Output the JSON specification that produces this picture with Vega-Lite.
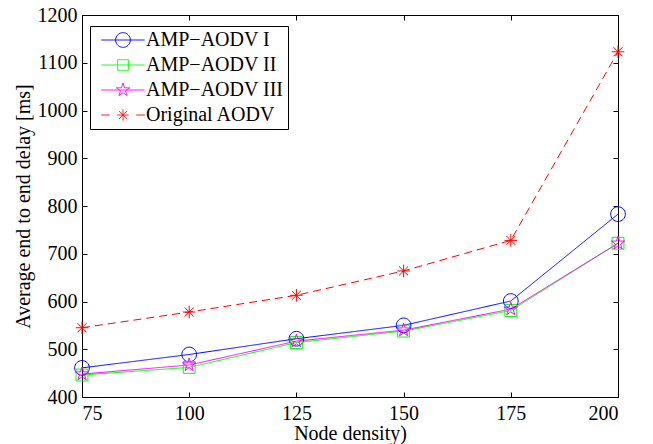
{
  "$schema": "https://vega.github.io/schema/vega-lite/v6.json",
  "autosize": {"type": "none"},
  "padding": {"left": 82, "top": 15, "right": 35, "bottom": 47},
  "width": 536,
  "height": 382,
  "background": "white",
  "config": {
    "font": "Liberation Serif",
    "view": {"stroke": "#000", "strokeWidth": 1},
    "axis": {
      "domain": false,
      "labelColor": "#000",
      "titleColor": "#000",
      "labelFont": "Liberation Serif",
      "titleFont": "Liberation Serif",
      "labelFontSize": 20,
      "titleFontSize": 20,
      "titleFontWeight": "normal"
    },
    "legend": {
      "labelFont": "Liberation Serif",
      "labelFontSize": 20,
      "labelColor": "#000"
    }
  },
  "data": {
    "values": [
      {"series": "AMP−AODV I", "node": 75, "delay": 461},
      {"series": "AMP−AODV I", "node": 100, "delay": 489},
      {"series": "AMP−AODV I", "node": 125, "delay": 522},
      {"series": "AMP−AODV I", "node": 150, "delay": 550},
      {"series": "AMP−AODV I", "node": 175, "delay": 601},
      {"series": "AMP−AODV I", "node": 200, "delay": 783},
      {"series": "AMP−AODV II", "node": 75, "delay": 446},
      {"series": "AMP−AODV II", "node": 100, "delay": 462},
      {"series": "AMP−AODV II", "node": 125, "delay": 514},
      {"series": "AMP−AODV II", "node": 150, "delay": 538},
      {"series": "AMP−AODV II", "node": 175, "delay": 581},
      {"series": "AMP−AODV II", "node": 200, "delay": 722},
      {"series": "AMP−AODV III", "node": 75, "delay": 448},
      {"series": "AMP−AODV III", "node": 100, "delay": 467},
      {"series": "AMP−AODV III", "node": 125, "delay": 517},
      {"series": "AMP−AODV III", "node": 150, "delay": 540},
      {"series": "AMP−AODV III", "node": 175, "delay": 584},
      {"series": "AMP−AODV III", "node": 200, "delay": 722},
      {"series": "Original AODV", "node": 75, "delay": 545},
      {"series": "Original AODV", "node": 100, "delay": 578},
      {"series": "Original AODV", "node": 125, "delay": 613},
      {"series": "Original AODV", "node": 150, "delay": 664},
      {"series": "Original AODV", "node": 175, "delay": 728},
      {"series": "Original AODV", "node": 200, "delay": 1123}
    ]
  },
  "layer": [
    {
      "mark": {"type": "line", "strokeWidth": 1},
      "encoding": {
        "x": {
          "field": "node", "type": "quantitative",
          "scale": {"domain": [75, 200], "nice": false, "zero": false},
          "axis": {"values": [75, 100, 125, 150, 175, 200], "format": "d", "ticks": false, "tickSize": 0, "grid": true, "gridColor": "#000000", "gridOpacity": 1, "gridWidth": 1, "gridDash": [5, 372, 5, 1000], "title": "Node density)", "labelPadding": 6, "titlePadding": 0}
        },
        "y": {
          "field": "delay", "type": "quantitative",
          "scale": {"domain": [400, 1200], "nice": false, "zero": false},
          "axis": {"values": [400, 500, 600, 700, 800, 900, 1000, 1100, 1200], "format": "d", "ticks": false, "tickSize": 0, "grid": true, "gridColor": "#000000", "gridOpacity": 1, "gridWidth": 1, "gridDash": [5, 526, 5, 1000], "title": "Average end to end delay [ms]", "labelPadding": 5, "titlePadding": 4}
        },
        "color": {
          "field": "series", "type": "nominal",
          "scale": {
            "domain": ["AMP−AODV I", "AMP−AODV II", "AMP−AODV III", "Original AODV"],
            "range": ["#0000ff", "#00ff00", "#ff00ff", "#ff0000"]
          },
          "legend": {
            "title": null,
            "orient": "none",
            "legendX": 8,
            "legendY": 11,
            "padding": 4,
            "strokeColor": "#000",
            "fillColor": "#fff",
            "symbolSize": 196,
            "symbolOffset": 19,
            "labelOffset": 13,
            "rowPadding": 5,
            "zindex": 2,
            "encoding": {
              "symbols": {
                "shape": {"value": {"expr": "datum.value === 'AMP−AODV I' ? 'M-3.1,0H3.1M1.05,0A1.05,1.05 0 1,1 -1.05,0A1.05,1.05 0 1,1 1.05,0' : datum.value === 'AMP−AODV II' ? 'M-3.1,0H3.1M-0.76,-0.76H0.76V0.76H-0.76Z' : datum.value === 'AMP−AODV III' ? 'M-3.1,0H3.1M0,-1L0.225,-0.309L0.951,-0.309L0.363,0.118L0.588,0.809L0,0.382L-0.588,0.809L-0.363,0.118L-0.951,-0.309L-0.225,-0.309Z' : 'M-3.1,0H-1.9M1.9,0H3.1M-0.8,0H0.8M0,-0.8V0.8M-0.57,-0.57L0.57,0.57M-0.57,0.57L0.57,-0.57'"}},
                "stroke": {"value": {"expr": "datum.value === 'AMP−AODV I' ? '#0000ff' : datum.value === 'AMP−AODV II' ? '#00ff00' : datum.value === 'AMP−AODV III' ? '#ff00ff' : '#ff0000'"}},
                "fill": {"value": "transparent"},
                "strokeWidth": {"value": 1},
                "strokeDash": {"value": [1, 0]},
                "opacity": {"value": 1},
                "size": {"value": 196}
              }
            }
          }
        },
        "strokeDash": {
          "field": "series", "type": "nominal",
          "scale": {
            "domain": ["Original AODV", "AMP−AODV I", "AMP−AODV II", "AMP−AODV III"],
            "range": [[8, 5], [1, 0], [1, 0], [1, 0]]
          },
          "legend": null
        }
      }
    },
    {
      "mark": {"type": "point", "filled": false, "strokeWidth": 1, "size": 196, "opacity": 1},
      "encoding": {
        "x": {"field": "node", "type": "quantitative"},
        "y": {"field": "delay", "type": "quantitative"},
        "color": {"field": "series", "type": "nominal", "legend": null},
        "shape": {
          "field": "series", "type": "nominal",
          "scale": {
            "domain": ["Original AODV", "AMP−AODV I", "AMP−AODV II", "AMP−AODV III"],
            "range": [
              "M-0.9,0H0.9M0,-0.9V0.9M-0.64,-0.64L0.64,0.64M-0.64,0.64L0.64,-0.64",
              "M1.05,0A1.05,1.05 0 1,1 -1.05,0A1.05,1.05 0 1,1 1.05,0",
              "M-0.85,-0.85H0.85V0.85H-0.85Z",
              "M0,-1L0.225,-0.309L0.951,-0.309L0.363,0.118L0.588,0.809L0,0.382L-0.588,0.809L-0.363,0.118L-0.951,-0.309L-0.225,-0.309Z"
            ]
          },
          "legend": null
        }
      }
    }
  ]
}
